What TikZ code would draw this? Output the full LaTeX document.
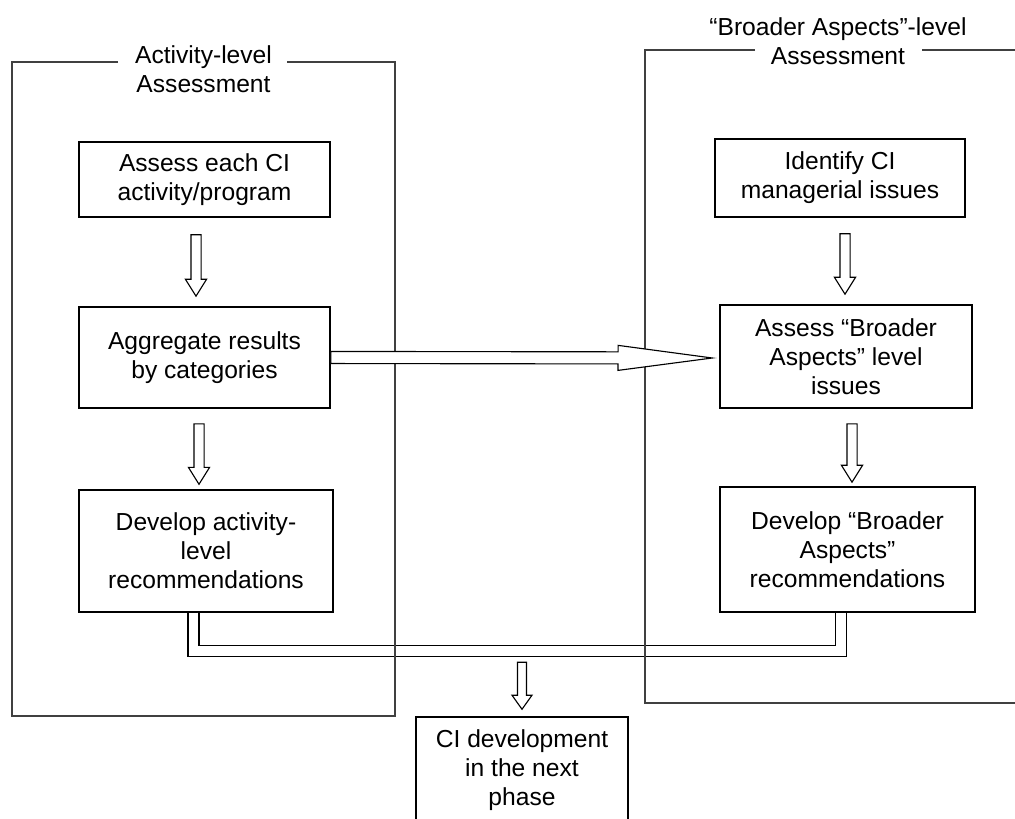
\documentclass[tikz,border=0pt]{standalone}
\usepackage{fontspec}
\setmainfont{Liberation Sans}
\usetikzlibrary{calc}

\begin{document}
\begin{tikzpicture}[x=0.025cm, y=-0.025cm]
\tikzstyle{box}=[draw, line width=1pt, align=center, inner sep=2pt, font=\fontsize{17.5}{20.6}\selectfont]
\tikzstyle{title}=[align=center, inner sep=0pt, font=\fontsize{17.5}{20.6}\selectfont]
\tikzstyle{frame}=[draw=black!75, line width=1pt]
\tikzstyle{link}=[double, double distance=6.8pt, line width=0.9pt]
\tikzset{hollow/.style n args={3}{fill=white, draw, line width=0.8pt,
  to path={let \p1=(\tikztostart), \p2=(\tikztotarget), \n1={atan2(\y2-\y1,\x2-\x1)} in
    ($(\p1)+(\n1+90:#1)$) -- ($(\p2)+(\n1+180:#3)+(\n1+90:#1)$) -- ($(\p2)+(\n1+180:#3)+(\n1+90:#2)$)
    -- (\p2) -- ($(\p2)+(\n1+180:#3)+(\n1-90:#2)$) -- ($(\p2)+(\n1+180:#3)+(\n1-90:#1)$)
    -- ($(\p1)+(\n1-90:#1)$) -- cycle}}}

\clip (0,0) rectangle (1015,819);

\coordinate (c_assess) at (204.5, 179.5);
\coordinate (c_aggregate) at (204.5, 357.5);
\coordinate (c_develop) at (206, 551);

\coordinate (c_identify) at (840, 178);
\coordinate (c_broad) at (846, 356.5);
\coordinate (c_broaddev) at (847.5, 549.5);

\coordinate (c_next) at (522, 770);

\coordinate (c_t_act) at (203.5, 69.5);
\coordinate (c_t_broad) at (838, 41);


\node[box, minimum width=6.28cm, minimum height=1.88cm] (assess) at (c_assess) {Assess each CI\\activity/program};
\node[box, minimum width=6.28cm, minimum height=2.53cm] (aggregate) at (c_aggregate) {Aggregate results\\by categories};
\node[box, minimum width=6.35cm, minimum height=3.05cm] (develop) at (c_develop) {Develop activity-\\level\\recommendations};

\node[box, minimum width=6.25cm, minimum height=1.95cm] (identify) at (c_identify) {Identify CI\\managerial issues};
\node[box, minimum width=6.3cm, minimum height=2.58cm] (broad) at (c_broad) {Assess “Broader\\Aspects” level\\issues};
\node[box, minimum width=6.38cm, minimum height=3.13cm] (broaddev) at (c_broaddev) {Develop “Broader\\Aspects”\\recommendations};

\node[box, minimum width=5.3cm, minimum height=2.65cm] (next) at (c_next) {CI development\\in the next\\phase};

\node[title] (t_act) at (c_t_act) {Activity-level\\Assessment};
\node[title] (t_broad) at (c_t_broad) {“Broader Aspects”-level\\Assessment};

% joining the two recommendation boxes
\draw[link] ($(develop.south)+(-12.5,0)$) |- ($(broaddev.south)+(-6.5,38)$) -- ($(broaddev.south)+(-6.5,0)$);

% frames
\draw[frame] (118,62) -- (12,62) -- (12,716) -- (395,716) -- (395,62) -- (287,62);
\draw[frame] (755,50) -- (645,50) -- (645,703) -- (1030,703);
\draw[frame] (922,50) -- (1030,50);

\draw[hollow={3.6pt}{7.5pt}{12pt}] ($(assess.south)+(-8.5,17)$) to ($(aggregate.north)+(-8.5,-10)$);
\draw[hollow={3.6pt}{7.5pt}{12pt}] ($(aggregate.south)+(-5.5,15)$) to ($(develop.north)+(-7,-5)$);
\draw[hollow={3.6pt}{7.5pt}{12pt}] ($(identify.south)+(5,16)$) to ($(broad.north)+(-1,-10)$);
\draw[hollow={3.6pt}{7.5pt}{12pt}] ($(broad.south)+(6,15)$) to ($(broaddev.north)+(4.5,-4)$);
\draw[hollow={3.2pt}{7.1pt}{10pt}] ($(next.north)+(0,-54)$) to ($(next.north)+(0,-7)$);

\draw[hollow={4.3pt}{8.9pt}{67pt}] (aggregate.east) to ($(broad.west)+(-7,1.5)$);

\end{tikzpicture}
\end{document}
